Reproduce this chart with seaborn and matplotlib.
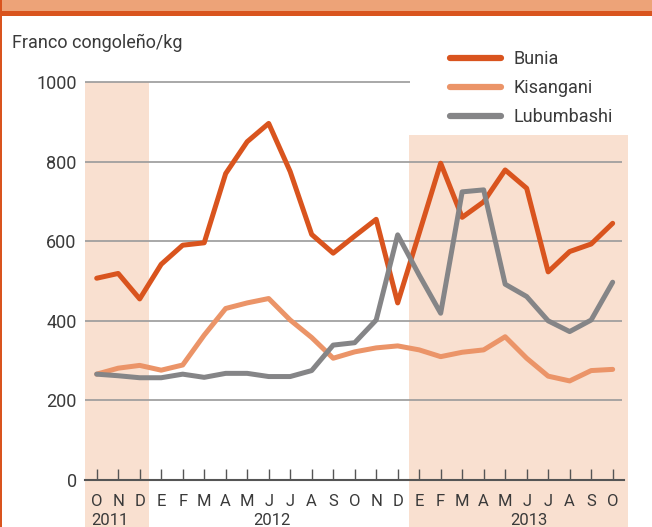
import numpy as np
import pandas as pd
import matplotlib
matplotlib.use("Agg")
import matplotlib.pyplot as plt
import seaborn as sns

months = ["O", "N", "D",
          "E", "F", "M", "A", "M", "J", "J", "A", "S", "O", "N", "D",
          "E", "F", "M", "A", "M", "J", "J", "A", "S", "O"]
years = ["2011", "2012", "2013"]

bunia = [507, 519, 455, 542, 590, 596, 770, 850, 896, 775, 617, 570, 613, 655, 445,
         620, 796, 660, 699, 779, 733, 523, 574, 593, 645]
kisangani = [266, 281, 288, 276, 289, 364, 431, 445, 456, 402, 358, 306, 322, 332, 337,
             327, 310, 321, 327, 360, 306, 261, 249, 275, 278]
lubumbashi = [266, 262, 257, 257, 266, 258, 268, 268, 260, 260, 275, 339, 345, 402, 616,
              515, 419, 724, 729, 492, 461, 400, 373, 402, 497]

series = ["Bunia", "Kisangani", "Lubumbashi"]
colors = ["#d9541e", "#eb9468", "#858587"]
shade = "#f9e0d0"
txt = "#3a3a3a"

sns.set_theme(style="white")
plt.rcParams["font.family"] = ["Roboto", "DejaVu Sans"]

df = pd.DataFrame({
    "idx": list(range(len(months))) * 3,
    "valor": bunia + kisangani + lubumbashi,
    "ciudad": np.repeat(series, len(months)),
})

fig = plt.figure(figsize=(6.52, 5.27), dpi=100)
ax = fig.add_axes([85 / 652, 0, 544 / 652, 445 / 527])
x0, x1 = -0.544, 24.76
ax.set_xlim(x0, x1)
ax.set_ylim(-118, 1000)

# shaded year blocks
ax.axvspan(x0, 2.45, color=shade, lw=0, zorder=0)
ax.fill_between([14.55, 24.71], -118, 867, color=shade, lw=0, zorder=0)

# gridlines
ax.hlines([200, 400, 600, 800], x0, 24.44, color="#9a9a9a", lw=1.2, zorder=1)
ax.hlines(1000, x0, 14.57, color="#9a9a9a", lw=1.2, zorder=1, clip_on=False)

sns.lineplot(data=df, x="idx", y="valor", hue="ciudad", palette=colors,
             lw=3.6, ax=ax, zorder=3, legend=True)

for s in ["top", "right", "left"]:
    ax.spines[s].set_visible(False)
ax.spines["bottom"].set_position(("data", 0))
ax.spines["bottom"].set_bounds(x0, 24.53)
ax.spines["bottom"].set_color("#555555")
ax.spines["bottom"].set_linewidth(1.5)
ax.spines["bottom"].set_zorder(4)

ax.set_xticks(range(len(months)))
ax.set_xticklabels(months)
ax.tick_params(axis="x", direction="in", length=8, width=1, color="#555555",
               pad=10, labelsize=12, labelcolor=txt, bottom=True)
ax.set_yticks(range(0, 1001, 200))
ax.tick_params(axis="y", length=0, pad=6, labelsize=13, labelcolor=txt)
ax.set_xlabel("")
ax.set_ylabel("")

# year labels
ax.text(0.62, -102, years[0], ha="center", va="center", fontsize=12, color=txt)
ax.text(8.15, -102, years[1], ha="center", va="center", fontsize=12, color=txt)
ax.text(20.1, -102, years[2], ha="center", va="center", fontsize=12, color=txt)

ax.legend(loc="upper left", bbox_to_anchor=(450 / 652, 1 - 50 / 527),
          bbox_transform=fig.transFigure, frameon=False, fontsize=13,
          handlelength=2.8, handletextpad=0.7, labelspacing=0.62,
          borderpad=0, borderaxespad=0, labelcolor=txt)
for h in ax.get_legend().get_lines():
    h.set_linewidth(4.5)
    h.set_solid_capstyle("round")

fig.text(12 / 652, 1 - 48 / 527, "Franco congoleño/kg", ha="left", va="baseline",
         fontsize=13, color=txt)

# header band and left border
fig.patches.append(plt.Rectangle((0, 1 - 11 / 527), 1, 11 / 527, transform=fig.transFigure,
                                 color="#eda378", lw=0))
fig.patches.append(plt.Rectangle((0, 1 - 16 / 527), 1, 5 / 527, transform=fig.transFigure,
                                 color="#d9541e", lw=0))
fig.patches.append(plt.Rectangle((0, 0), 2 / 652, 1, transform=fig.transFigure,
                                 color="#d9541e", lw=0))

fig.savefig("out.png", dpi=100)
